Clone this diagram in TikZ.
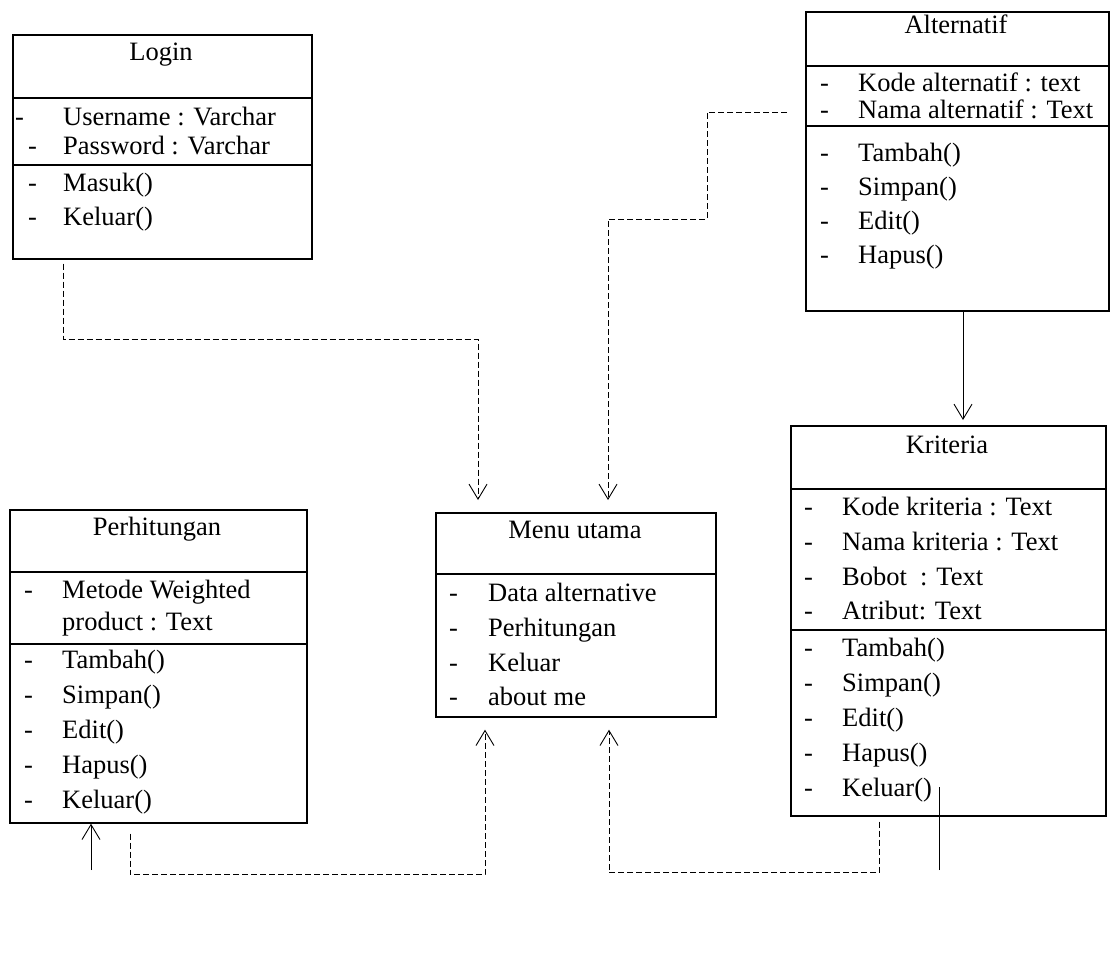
\documentclass[tikz,border=0pt]{standalone}
\usepackage{fontspec}
\setmainfont{Liberation Serif}
\usetikzlibrary{arrows.meta,calc}
\begin{document}
\begin{tikzpicture}[x=1pt,y=-1pt,
  classbox/.style={draw, line width=1.7pt, inner sep=0pt, anchor=north west},
  sep/.style={line width=1.3pt},
  txt/.style={anchor=mid west, inner sep=0pt, yshift=-6pt, font=\fontsize{26.5}{30}\selectfont},
  ttl/.style={anchor=mid, inner sep=0pt, yshift=-6pt, font=\fontsize{26.5}{30}\selectfont},
  tip/.style={-{Straight Barb[length=15pt,width=18pt,line width=0.9pt]}},
  dep/.style={line width=0.9pt, dash pattern=on 6pt off 3pt, tip},
  assoc/.style={line width=0.9pt, tip},
  plain/.style={line width=0.9pt}]
\useasboundingbox (0,0) rectangle (1112,953);

% ---------- Login ----------
\node[classbox, minimum width=299pt, minimum height=224pt] (login) at (12,34) {};
\draw[sep] (login.west |- 0,98) -- (login.east |- 0,98);
\draw[sep] (login.west |- 0,165) -- (login.east |- 0,165);
\node[ttl] (login-t) at (161,52) {Login};
\node[txt] (login-d1) at (15,117) {-};
\node[txt] (login-a1) at (63,117) {Username : Varchar};
\node[txt] (login-d2) at (28,146) {-};
\node[txt] (login-a2) at (63,146) {Password : Varchar};
\node[txt] (login-d3) at (28,183) {-};
\node[txt] (login-m1) at (63,183) {Masuk()};
\node[txt] (login-d4) at (28,217) {-};
\node[txt] (login-m2) at (63,217) {Keluar()};

% ---------- Alternatif ----------
\node[classbox, minimum width=303pt, minimum height=299pt] (alt) at (805,11) {};
\draw[sep] (alt.west |- 0,66) -- (alt.east |- 0,66);
\draw[sep] (alt.west |- 0,126) -- (alt.east |- 0,126);
\node[ttl] (alt-t) at (956,25) {Alternatif};
\node[txt] (alt-d1) at (820,83) {-};
\node[txt] (alt-a1) at (858,83) {Kode alternatif : text};
\node[txt] (alt-d2) at (820,110) {-};
\node[txt] (alt-a2) at (858,110) {Nama alternatif : Text};
\node[txt] (alt-d3) at (820,153) {-};
\node[txt] (alt-m1) at (858,153) {Tambah()};
\node[txt] (alt-d4) at (820,187) {-};
\node[txt] (alt-m2) at (858,187) {Simpan()};
\node[txt] (alt-d5) at (820,221) {-};
\node[txt] (alt-m3) at (858,221) {Edit()};
\node[txt] (alt-d6) at (820,255) {-};
\node[txt] (alt-m4) at (858,255) {Hapus()};

% ---------- Kriteria ----------
\node[classbox, minimum width=315pt, minimum height=390pt] (kri) at (790,425) {};
\draw[sep] (kri.west |- 0,489) -- (kri.east |- 0,489);
\draw[sep] (kri.west |- 0,630) -- (kri.east |- 0,630);
\node[ttl] (kri-t) at (947,445) {Kriteria};
\node[txt] (kri-d1) at (804,507) {-};
\node[txt] (kri-a1) at (842,507) {Kode kriteria : Text};
\node[txt] (kri-d2) at (804,542) {-};
\node[txt] (kri-a2) at (842,542) {Nama kriteria : Text};
\node[txt] (kri-d3) at (804,577) {-};
\node[txt] (kri-a3) at (842,577) {Bobot\ \ : Text};
\node[txt] (kri-d4) at (804,611) {-};
\node[txt] (kri-a4) at (842,611) {Atribut: Text};
\node[txt] (kri-d5) at (804,648) {-};
\node[txt] (kri-m1) at (842,648) {Tambah()};
\node[txt] (kri-d6) at (804,683) {-};
\node[txt] (kri-m2) at (842,683) {Simpan()};
\node[txt] (kri-d7) at (804,718) {-};
\node[txt] (kri-m3) at (842,718) {Edit()};
\node[txt] (kri-d8) at (804,753) {-};
\node[txt] (kri-m4) at (842,753) {Hapus()};
\node[txt] (kri-d9) at (804,788) {-};
\node[txt] (kri-m5) at (842,788) {Keluar()};

% ---------- Perhitungan ----------
\node[classbox, minimum width=297pt, minimum height=313pt] (perh) at (9,509) {};
\draw[sep] (perh.west |- 0,572) -- (perh.east |- 0,572);
\draw[sep] (perh.west |- 0,644) -- (perh.east |- 0,644);
\node[ttl] (perh-t) at (157,527) {Perhitungan};
\node[txt] (perh-d1) at (24,590) {-};
\node[txt] (perh-a1) at (62,590) {Metode Weighted};
\node[txt] (perh-a1b) at (62,622) {product : Text};
\node[txt] (perh-d2) at (24,660) {-};
\node[txt] (perh-m1) at (62,660) {Tambah()};
\node[txt] (perh-d3) at (24,695) {-};
\node[txt] (perh-m2) at (62,695) {Simpan()};
\node[txt] (perh-d4) at (24,730) {-};
\node[txt] (perh-m3) at (62,730) {Edit()};
\node[txt] (perh-d5) at (24,765) {-};
\node[txt] (perh-m4) at (62,765) {Hapus()};
\node[txt] (perh-d6) at (24,800) {-};
\node[txt] (perh-m5) at (62,800) {Keluar()};

% ---------- Menu utama ----------
\node[classbox, minimum width=280pt, minimum height=204pt] (menu) at (435,512) {};
\draw[sep] (menu.west |- 0,574) -- (menu.east |- 0,574);
\node[ttl] (menu-t) at (575,530) {Menu utama};
\node[txt] (menu-d1) at (449,593) {-};
\node[txt] (menu-i1) at (488,593) {Data alternative};
\node[txt] (menu-d2) at (449,628) {-};
\node[txt] (menu-i2) at (488,628) {Perhitungan};
\node[txt] (menu-d3) at (449,663) {-};
\node[txt] (menu-i3) at (488,663) {Keluar};
\node[txt] (menu-d4) at (449,697) {-};
\node[txt] (menu-i4) at (488,697) {about me};

% ---------- connectors ----------
\draw[dep] ($(login.south west)+(51,4)$) |- ($(menu.north west)+(43,-173)$)
  -- ($(menu.north west)+(43,-12)$);
\draw[dep] ($(alt.north west)+(-18,101)$) -- ++(-80,0) -- ++(0,107)
  -| ($(menu.north west)+(173,-12)$);
\draw[dep] ($(perh.south west)+(121,10)$) |- ($(menu.south west)+(50,157)$)
  -- ($(menu.south west)+(50,12)$);
\draw[dep] ($(kri.south west)+(89,5)$) |- ($(menu.south west)+(174,155)$)
  -- ($(menu.south west)+(174,12)$);
\draw[assoc] ($(alt.south west)+(158,0)$) -- ($(kri.north west)+(173,-5)$);
\coordinate (pfree) at (91,870);
\draw[assoc] (pfree) -- (perh.south -| pfree);
\coordinate (kfree) at (939,870);
\draw[plain] (kfree) -- ($(kri.south west)+(149,-30)$);
\end{tikzpicture}
\end{document}
